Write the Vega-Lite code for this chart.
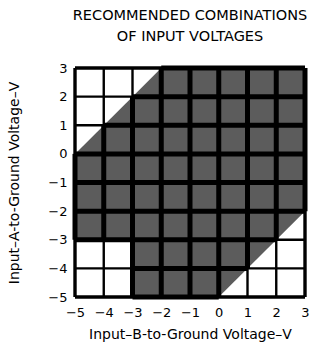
{
  "$schema": "https://vega.github.io/schema/vega-lite/v6.json",
  "width": 230,
  "height": 229,
  "autosize": {"type": "none"},
  "padding": {"left": 75, "top": 68, "right": 24, "bottom": 52},
  "background": "white",
  "config": {
    "view": {"stroke": null},
    "font": "DejaVu Sans",
    "axis": {
      "ticks": false,
      "domain": false,
      "grid": false,
      "labelFlush": false,
      "labelOverlap": false,
      "labelFontSize": 13,
      "labelColor": "black",
      "labelFont": "DejaVu Sans",
      "titleFont": "DejaVu Sans",
      "titleColor": "black",
      "titleFontSize": 14,
      "titleFontWeight": "normal",
      "values": [-5, -4, -3, -2, -1, 0, 1, 2, 3]
    }
  },
  "title": {
    "text": ["RECOMMENDED COMBINATIONS", "OF INPUT VOLTAGES"],
    "fontSize": 14.5,
    "fontWeight": "normal",
    "font": "DejaVu Sans",
    "color": "black",
    "lineHeight": 21,
    "offset": 18,
    "anchor": "middle"
  },
  "datasets": {
    "region": [
      {"B": -5, "A": 0, "A2": -3, "part": "left"},
      {"B": -3, "A": 2, "A2": -3, "part": "left"},
      {"B": -3, "A": 2, "A2": -5, "part": "main"},
      {"B": -2, "A": 3, "A2": -5, "part": "main"},
      {"B": 0, "A": 3, "A2": -5, "part": "main"},
      {"B": 3, "A": 3, "A2": -2, "part": "main"}
    ],
    "vlines": [
      {"B": -5, "A": -5, "A2": 3, "kind": "thin"},
      {"B": -4, "A": -5, "A2": 3, "kind": "thin"},
      {"B": -3, "A": -5, "A2": 3, "kind": "thin"},
      {"B": -2, "A": -5, "A2": 3, "kind": "thin"},
      {"B": -1, "A": -5, "A2": 3, "kind": "thin"},
      {"B": 0, "A": -5, "A2": 3, "kind": "thin"},
      {"B": 1, "A": -5, "A2": 3, "kind": "thin"},
      {"B": 2, "A": -5, "A2": 3, "kind": "thin"},
      {"B": 3, "A": -5, "A2": 3, "kind": "thin"},
      {"B": -5, "A": -3, "A2": 0, "kind": "thick"},
      {"B": -4, "A": -3, "A2": 1, "kind": "thick"},
      {"B": -3, "A": -5, "A2": 2, "kind": "thick"},
      {"B": -2, "A": -5, "A2": 3, "kind": "thick"},
      {"B": -1, "A": -5, "A2": 3, "kind": "thick"},
      {"B": 0, "A": -5, "A2": 3, "kind": "thick"},
      {"B": 1, "A": -4, "A2": 3, "kind": "thick"},
      {"B": 2, "A": -3, "A2": 3, "kind": "thick"},
      {"B": 3, "A": -2, "A2": 3, "kind": "thick"}
    ],
    "hlines": [
      {"A": -5, "B": -5, "B2": 3, "kind": "thin"},
      {"A": -4, "B": -5, "B2": 3, "kind": "thin"},
      {"A": -3, "B": -5, "B2": 3, "kind": "thin"},
      {"A": -2, "B": -5, "B2": 3, "kind": "thin"},
      {"A": -1, "B": -5, "B2": 3, "kind": "thin"},
      {"A": 0, "B": -5, "B2": 3, "kind": "thin"},
      {"A": 1, "B": -5, "B2": 3, "kind": "thin"},
      {"A": 2, "B": -5, "B2": 3, "kind": "thin"},
      {"A": 3, "B": -5, "B2": 3, "kind": "thin"},
      {"A": 3, "B": -2, "B2": 3, "kind": "thick"},
      {"A": 2, "B": -3, "B2": 3, "kind": "thick"},
      {"A": 1, "B": -4, "B2": 3, "kind": "thick"},
      {"A": 0, "B": -5, "B2": 3, "kind": "thick"},
      {"A": -1, "B": -5, "B2": 3, "kind": "thick"},
      {"A": -2, "B": -5, "B2": 3, "kind": "thick"},
      {"A": -3, "B": -5, "B2": 2, "kind": "thick"},
      {"A": -4, "B": -3, "B2": 1, "kind": "thick"},
      {"A": -5, "B": -3, "B2": 0, "kind": "thick"}
    ]
  },
  "layer": [
    {
      "data": {"name": "region"},
      "mark": {"type": "area", "color": "#5c5c5c", "opacity": 1, "line": false},
      "encoding": {
        "x": {
          "field": "B",
          "type": "quantitative",
          "scale": {"domain": [-5, 3], "nice": false, "zero": false},
          "axis": {"title": "Input–B-to-Ground Voltage–V", "labelPadding": 9, "titlePadding": 8}
        },
        "y": {
          "field": "A",
          "type": "quantitative",
          "scale": {"domain": [-5, 3], "nice": false, "zero": false},
          "axis": {"title": "Input–A-to-Ground Voltage–V", "labelPadding": 8, "titlePadding": 26}
        },
        "y2": {"field": "A2"},
        "detail": {"field": "part", "type": "nominal"}
      }
    },
    {
      "data": {"name": "vlines"},
      "transform": [{"filter": "datum.kind === 'thin'"}],
      "mark": {"type": "rule", "color": "black"},
      "encoding": {
        "x": {"field": "B", "type": "quantitative"},
        "y": {"field": "A", "type": "quantitative"},
        "y2": {"field": "A2"},
        "strokeWidth": {"condition": {"test": "datum.B === -5 || datum.B === 3", "value": 3.4}, "value": 2.4}
      }
    },
    {
      "data": {"name": "hlines"},
      "transform": [{"filter": "datum.kind === 'thin'"}],
      "mark": {"type": "rule", "color": "black"},
      "encoding": {
        "y": {"field": "A", "type": "quantitative"},
        "x": {"field": "B", "type": "quantitative"},
        "x2": {"field": "B2"},
        "strokeWidth": {"condition": {"test": "datum.A === -5 || datum.A === 3", "value": 3.4}, "value": 2.4}
      }
    },
    {
      "data": {"name": "vlines"},
      "transform": [{"filter": "datum.kind === 'thick'"}],
      "mark": {"type": "rule", "color": "black", "strokeWidth": 5},
      "encoding": {
        "x": {"field": "B", "type": "quantitative"},
        "y": {"field": "A", "type": "quantitative"},
        "y2": {"field": "A2"}
      }
    },
    {
      "data": {"name": "hlines"},
      "transform": [{"filter": "datum.kind === 'thick'"}],
      "mark": {"type": "rule", "color": "black", "strokeWidth": 5},
      "encoding": {
        "y": {"field": "A", "type": "quantitative"},
        "x": {"field": "B", "type": "quantitative"},
        "x2": {"field": "B2"}
      }
    }
  ]
}
